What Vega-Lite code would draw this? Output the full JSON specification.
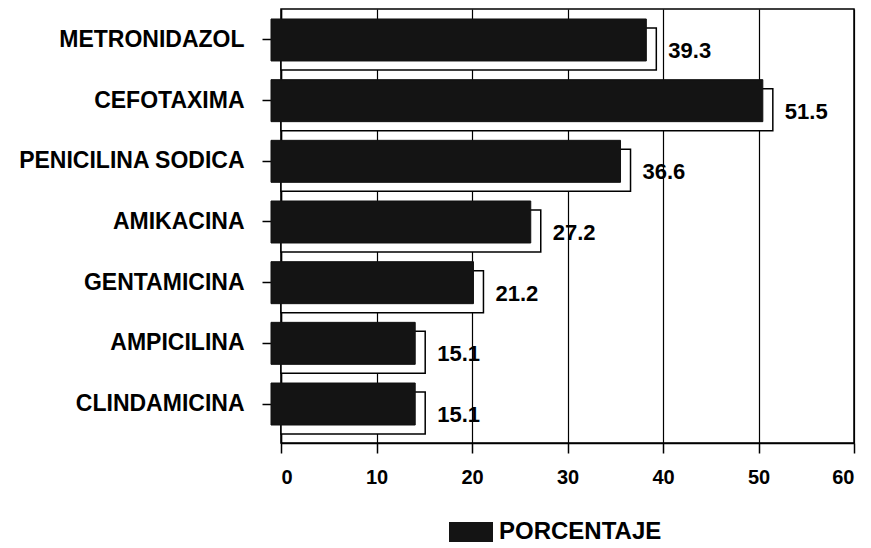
{
  "$schema": "https://vega.github.io/schema/vega-lite/v6.json",
  "width": 573,
  "height": 434,
  "autosize": {"type": "none"},
  "padding": {"left": 281, "top": 9, "right": 17, "bottom": 105},
  "background": "white",
  "config": {
    "view": {"stroke": "black", "strokeWidth": 1.5},
    "font": "Liberation Sans"
  },
  "data": {
    "values": [
      {"farmaco": "METRONIDAZOL", "orden": 1, "porcentaje": 39.3, "serie": "PORCENTAJE"},
      {"farmaco": "CEFOTAXIMA", "orden": 2, "porcentaje": 51.5, "serie": "PORCENTAJE"},
      {"farmaco": "PENICILINA SODICA", "orden": 3, "porcentaje": 36.6, "serie": "PORCENTAJE"},
      {"farmaco": "AMIKACINA", "orden": 4, "porcentaje": 27.2, "serie": "PORCENTAJE"},
      {"farmaco": "GENTAMICINA", "orden": 5, "porcentaje": 21.2, "serie": "PORCENTAJE"},
      {"farmaco": "AMPICILINA", "orden": 6, "porcentaje": 15.1, "serie": "PORCENTAJE"},
      {"farmaco": "CLINDAMICINA", "orden": 7, "porcentaje": 15.1, "serie": "PORCENTAJE"}
    ]
  },
  "encoding": {
    "y": {
      "field": "farmaco",
      "type": "nominal",
      "sort": {"field": "orden", "order": "ascending"},
      "scale": {"paddingInner": 0.308, "paddingOuter": 0.2306, "align": 0.357},
      "axis": {
        "title": null,
        "labelFont": "Liberation Sans",
        "labelFontWeight": "bold",
        "labelFontSize": 23,
        "labelColor": "black",
        "labelPadding": 18,
        "labelLimit": 300,
        "tickColor": "black",
        "tickSize": 19,
        "tickWidth": 1.5,
        "domainColor": "black",
        "domainWidth": 1.5,
        "labelBaseline": "middle"
      }
    },
    "x": {
      "field": "porcentaje",
      "type": "quantitative",
      "scale": {"domain": [0, 60]},
      "axis": {
        "title": null,
        "values": [0, 10, 20, 30, 40, 50, 60],
        "grid": true,
        "gridColor": "black",
        "gridOpacity": 1,
        "gridWidth": 1.2,
        "labelFont": "Liberation Sans",
        "labelFontWeight": "bold",
        "labelFontSize": 20,
        "labelColor": "black",
        "labelPadding": 14,
        "tickColor": "black",
        "tickSize": 10,
        "tickWidth": 1.5,
        "domainColor": "black",
        "domainWidth": 1.5
      }
    }
  },
  "layer": [
    {
      "mark": {"type": "bar", "fill": "white", "stroke": "black", "strokeWidth": 1.5, "xOffset": 0, "yOffset": 9},
      "encoding": {}
    },
    {
      "mark": {"type": "bar", "stroke": "#111111", "strokeWidth": 1, "xOffset": -10, "yOffset": 0},
      "encoding": {
        "color": {
          "field": "serie",
          "type": "nominal",
          "scale": {"range": ["#141414"]},
          "legend": {
            "title": null,
            "orient": "none",
            "legendX": 168,
            "legendY": 501,
            "padding": 0,
            "symbolType": "M-1,-0.45L1,-0.45L1,0.45L-1,0.45Z",
            "symbolSize": 1936,
            "symbolStrokeWidth": 0,
            "labelFont": "Liberation Sans",
            "labelFontWeight": "bold",
            "labelFontSize": 24,
            "labelColor": "black",
            "labelOffset": 6,
            "labelLimit": 300
          }
        }
      }
    },
    {
      "mark": {"type": "text", "align": "left", "baseline": "middle", "dx": 12, "dy": 11, "font": "Liberation Sans", "fontWeight": "bold", "fontSize": 22, "color": "black"},
      "encoding": {
        "text": {"field": "porcentaje", "type": "quantitative", "format": ".1f"}
      }
    }
  ]
}
